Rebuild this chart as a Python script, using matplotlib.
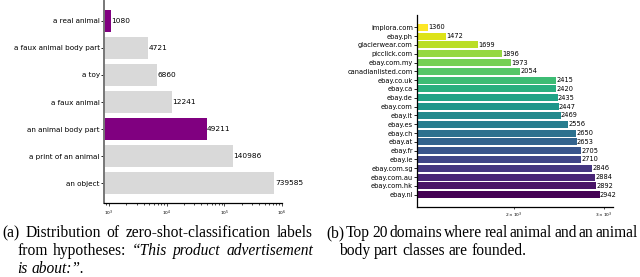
import numpy as np
import matplotlib
matplotlib.use("Agg")
import matplotlib.pyplot as plt

# (a) zero-shot labels
labels_a = ["a real animal", "a faux animal body part", "a toy", "a faux animal",
            "an animal body part", "a print of an animal", "an object"]
counts_a = [1080, 4721, 6860, 12241, 49211, 140986, 739585]
highlight_a = [True, False, False, False, True, False, False]

# (b) top 20 domains
domains_b = ["implora.com", "ebay.ph", "glacierwear.com", "picclick.com", "ebay.com.my",
             "canadianlisted.com", "ebay.co.uk", "ebay.ca", "ebay.de", "ebay.com",
             "ebay.it", "ebay.es", "ebay.ch", "ebay.at", "ebay.fr", "ebay.ie",
             "ebay.com.sg", "ebay.com.au", "ebay.com.hk", "ebay.nl"]
counts_b = [1360, 1472, 1699, 1896, 1973, 2054, 2415, 2420, 2435, 2447,
            2469, 2556, 2650, 2653, 2705, 2710, 2846, 2884, 2892, 2942]

W, H = 640, 277
fig = plt.figure(figsize=(W / 100, H / 100), dpi=100)


def px_axes(x0, y0, x1, y1):
    return fig.add_axes([x0 / W, 1 - y1 / H, (x1 - x0) / W, (y1 - y0) / H])


def style(ax, fs):
    ax.spines["top"].set_visible(False)
    ax.spines["right"].set_visible(False)
    ax.spines["left"].set_linewidth(0.9)
    ax.spines["bottom"].set_linewidth(0.9)
    ax.tick_params(axis="y", labelsize=fs, length=2, width=0.6, pad=1)
    ax.tick_params(axis="x", which="both", labelsize=3.2, pad=1.5, width=0.5)
    ax.tick_params(axis="x", which="major", length=2.5)
    ax.tick_params(axis="x", which="minor", length=1.5)


# --- left chart
ax1 = px_axes(104, 1, 282, 203)
colors_a = ["#800080" if h else "#d9d9d9" for h in highlight_a]
ax1.barh(range(len(labels_a)), counts_a, height=0.8, color=colors_a)
ax1.set_xscale("log")
ax1.set_xlim(818, 1.0e6)
ax1.set_yticks(range(len(labels_a)))
ax1.set_yticklabels(labels_a)
ax1.invert_yaxis()
style(ax1, 5.2)
ax1.spines["left"].set_color("#777777")
ax1.spines["left"].set_linewidth(1.4)
for i, v in enumerate(counts_a):
    ax1.annotate(str(v), (v, i), xytext=(0.3, 0), textcoords="offset points",
                 va="center", ha="left", fontsize=5.3)

# --- right chart
ax2 = px_axes(417, 15, 613, 207)
colors_b = plt.cm.viridis(np.linspace(1, 0, len(domains_b)))
ax2.barh(range(len(domains_b)), counts_b, height=0.8, color=colors_b)
ax2.set_xscale("log")
ax2.set_xlim(1292, 3125)
ax2.set_yticks(range(len(domains_b)))
ax2.set_yticklabels(domains_b)
ax2.invert_yaxis()
style(ax2, 4.8)
for i, v in enumerate(counts_b):
    ax2.annotate(str(v), (v, i), xytext=(0.2, 0), textcoords="offset points",
                 va="center", ha="left", fontsize=4.8)

# --- captions (justified like the paper)
renderer = fig.canvas.get_renderer()
SERIF = "Liberation Serif"
FS = 11.2


def word_width(s, italic):
    t = fig.text(0, 0, s, fontsize=FS, family=SERIF,
                 fontstyle="italic" if italic else "normal")
    w = t.get_window_extent(renderer).width
    t.remove()
    return w


SPACE = FS * 100 / 72 * 0.25


def draw_line(words, x0, y, x1=None):
    widths = [word_width(w, it) for w, it in words]
    if x1 is None:
        gap = SPACE
    else:
        gap = (x1 - x0 - sum(widths)) / (len(words) - 1)
    x = x0
    for (w, it), ww in zip(words, widths):
        fig.text(x / W, 1 - y / H, w, fontsize=FS, family=SERIF,
                 fontstyle="italic" if it else "normal", va="baseline", ha="left")
        x += ww + gap


def words(s, italic=False):
    return [(w, italic) for w in s.split()]


draw_line(words("(a) Distribution of zero-shot-classification labels"), 2, 237, 313)
draw_line(words("from hypotheses:") + words("\u201cThis product advertisement", True),
          17, 255, 313)
draw_line(words("is about:\u201d.", True), 17, 273)

draw_line(words("(b) Top 20 domains where real animal and an animal"), 326, 237, 638)
draw_line(words("body part classes are founded."), 339, 255)

fig.savefig("out.png", dpi=100)
